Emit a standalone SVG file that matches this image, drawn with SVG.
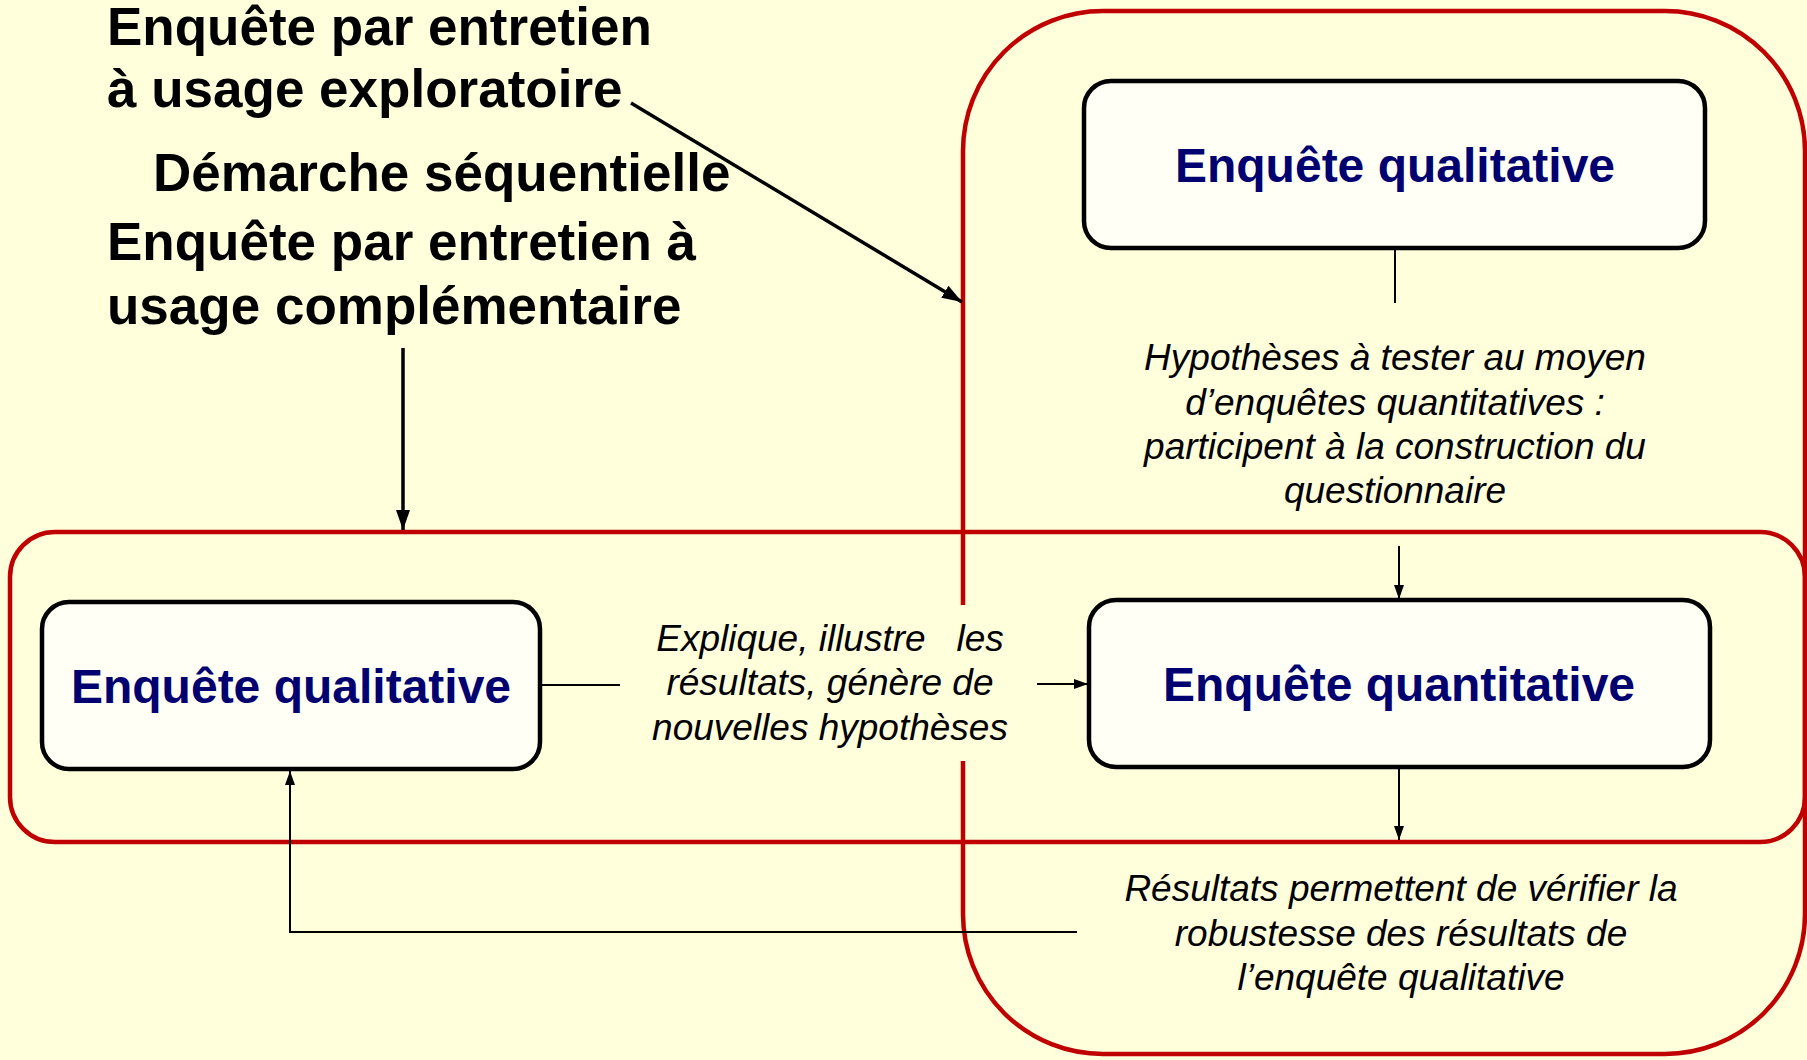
<svg xmlns="http://www.w3.org/2000/svg" width="1807" height="1060" viewBox="0 0 1807 1060">
<style>
.bg{fill:#FFFFDC}
.frame{fill:none;stroke:#C00000;stroke-width:4.5}
.box{fill:#FFFFF6;stroke:#000;stroke-width:4.5}
.boxt{font-family:"Liberation Sans",Arial,sans-serif;font-weight:bold;font-size:48px;fill:#000070;text-anchor:middle}
.head{font-family:"Liberation Sans",Arial,sans-serif;font-weight:bold;font-size:53px;fill:#000}
.lab{font-family:"Liberation Sans",Arial,sans-serif;font-style:italic;font-size:37px;fill:#000;text-anchor:middle;white-space:pre}
.thick{fill:none;stroke:#000;stroke-width:3.5}
.thin{fill:none;stroke:#000;stroke-width:2}
</style>
<defs>
<marker id="ah" markerUnits="userSpaceOnUse" markerWidth="22" markerHeight="16" refX="20" refY="7" orient="auto">
<path d="M0,0 L20,7 L0,14 z" fill="#000"/>
</marker>
<marker id="as" markerUnits="userSpaceOnUse" markerWidth="16" markerHeight="12" refX="14" refY="5" orient="auto">
<path d="M0,0 L14,5 L0,10 z" fill="#000"/>
</marker>
</defs>
<rect class="bg" x="0" y="0" width="1807" height="1060"/>
<g id="frames">
<path class="frame" d="M963,761 L963,914 A140,140 0 0 0 1103,1054 L1665,1054 A140,140 0 0 0 1805,914 L1805,151 A140,140 0 0 0 1665,11 L1103,11 A140,140 0 0 0 963,151 L963,605"/>
<rect class="frame" x="10" y="532" width="1795" height="310" rx="45" ry="45"/>
</g>
<g id="titles">
<text class="head" x="107" y="45">Enquête par entretien</text>
<text class="head" x="107" y="107">à usage exploratoire</text>
<text class="head" x="153" y="191">Démarche séquentielle</text>
<text class="head" x="107" y="260">Enquête par entretien à</text>
<text class="head" x="107" y="324">usage complémentaire</text>
</g>
<g id="connectors">
<line class="thick" x1="631" y1="103" x2="962" y2="302" marker-end="url(#ah)"/>
<line class="thick" x1="403" y1="348" x2="403" y2="530" marker-end="url(#ah)"/>
<line class="thin" x1="1395" y1="250" x2="1395" y2="303"/>
<line class="thin" x1="1399" y1="546" x2="1399" y2="599" marker-end="url(#as)"/>
<line class="thin" x1="1399" y1="768" x2="1399" y2="840" marker-end="url(#as)"/>
<line class="thin" x1="542" y1="685" x2="620" y2="685"/>
<line class="thin" x1="1037" y1="684" x2="1088" y2="684" marker-end="url(#as)"/>
<polyline class="thin" points="1077,932 290,932 290,771" marker-end="url(#as)"/>
</g>
<g id="node-qual-top">
<rect class="box" x="1084" y="81" width="621" height="167" rx="27" ry="27"/>
<text class="boxt" x="1395" y="182">Enquête qualitative</text>
</g>
<g id="node-qual-left">
<rect class="box" x="42" y="602" width="498" height="167" rx="27" ry="27"/>
<text class="boxt" x="291" y="703">Enquête qualitative</text>
</g>
<g id="node-quant">
<rect class="box" x="1089" y="600" width="621" height="167" rx="27" ry="27"/>
<text class="boxt" x="1399" y="701">Enquête quantitative</text>
</g>
<g id="label-hypotheses">
<text class="lab" x="1395" y="370">Hypothèses à tester au moyen</text>
<text class="lab" x="1395" y="415">d’enquêtes quantitatives :</text>
<text class="lab" x="1395" y="459">participent à la construction du</text>
<text class="lab" x="1395" y="503">questionnaire</text>
</g>
<g id="label-explique">
<text class="lab" x="830" y="651">Explique, illustre   les</text>
<text class="lab" x="830" y="695">résultats, génère de</text>
<text class="lab" x="830" y="740">nouvelles hypothèses</text>
</g>
<g id="label-resultats">
<text class="lab" x="1401" y="901">Résultats permettent de vérifier la</text>
<text class="lab" x="1401" y="946">robustesse des résultats de</text>
<text class="lab" x="1401" y="990">l’enquête qualitative</text>
</g>
</svg>
